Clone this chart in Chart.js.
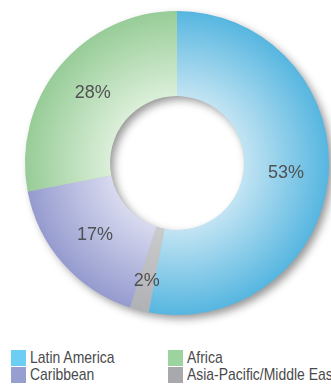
<!DOCTYPE html>
<html>
<head>
<meta charset="utf-8">
<script src="https://cdn.jsdelivr.net/npm/chart.js@4/dist/chart.umd.min.js"></script>
<style>
  html, body { margin: 0; padding: 0; background: #fff; }
  #wrap { position: relative; width: 331px; height: 385px; overflow: hidden; }
  #chart { position: absolute; left: 0; top: 0; }
  #legend {
    position: absolute; left: 11px; top: 350px; width: 330px;
    display: grid; grid-template-columns: 157px 170px; row-gap: 1px;
    font-family: "Liberation Sans", Arial, sans-serif;
    font-size: 17px; color: #4a4a4c;
  }
  .item { display: flex; align-items: center; height: 16px; white-space: nowrap; }
  .swatch { width: 15px; height: 16px; margin-right: 4px; flex: none; }
  /* narrow face: squeeze the regular one */
  .name { display: inline-block; transform: scaleX(0.82); transform-origin: left center; }
</style>
</head>
<body>
<div id="wrap">
  <canvas id="chart" width="331" height="340"></canvas>
  <div id="legend"></div>
</div>
<script>
// Regions and their share, clockwise from 12 o'clock
const regions = ['Latin America', 'Asia-Pacific/Middle East', 'Caribbean', 'Africa'];
const shares = [53, 2, 17, 28];
const swatchColors = ['#6ccef3', '#a7a9ac', '#979fd1', '#9dd39f'];
// inner (light) and outer (dark) stops of each ring segment
const innerColors = ['#c2e4f3', '#cacbcd', '#d8daef', '#dbefd9'];
const outerColors = ['#56b6e0', '#b0b1b4', '#959bcf', '#97cc97'];
// legend reads across: Latin America, Africa / Caribbean, Asia-Pacific
const legendOrder = [0, 3, 2, 1];

const CUTOUT = 0.44;

function ringGeometry(chart) {
  const a = chart.chartArea;
  const outer = Math.min(a.right - a.left, a.bottom - a.top) / 2;
  return {
    x: (a.left + a.right) / 2,
    y: (a.top + a.bottom) / 2,
    outer: outer,
    inner: outer * CUTOUT
  };
}

function segmentFill(context) {
  const chart = context.chart;
  const i = context.dataIndex;
  if (!chart.chartArea) return swatchColors[i];
  const g = ringGeometry(chart);
  const grad = chart.ctx.createRadialGradient(g.x, g.y, g.inner, g.x, g.y, g.outer);
  grad.addColorStop(0, innerColors[i]);
  grad.addColorStop(1, outerColors[i]);
  return grad;
}

// soft drop shadow under the whole ring
const ringShadow = {
  id: 'ringShadow',
  beforeDatasetsDraw(chart) {
    const g = ringGeometry(chart);
    const ctx = chart.ctx;
    ctx.save();
    ctx.shadowColor = 'rgba(0, 0, 0, 0.42)';
    ctx.shadowBlur = 9;
    ctx.shadowOffsetX = 4;
    ctx.shadowOffsetY = 4;
    ctx.fillStyle = '#b9bcc4';
    ctx.beginPath();
    ctx.arc(g.x, g.y, g.outer - 0.5, 0, Math.PI * 2);
    ctx.arc(g.x, g.y, g.inner + 0.5, 0, Math.PI * 2, true);
    ctx.fill('evenodd');
    ctx.restore();
  }
};

// percentage text on each segment
const shareLabels = {
  id: 'shareLabels',
  afterDatasetsDraw(chart) {
    const ctx = chart.ctx;
    const meta = chart.getDatasetMeta(0);
    ctx.save();
    ctx.font = '18px "Liberation Sans", Arial, sans-serif';
    ctx.fillStyle = '#505153';
    ctx.textAlign = 'center';
    ctx.textBaseline = 'middle';
    meta.data.forEach((arc, i) => {
      const p = arc.getProps(['startAngle', 'endAngle', 'innerRadius', 'outerRadius', 'x', 'y']);
      const mid = (p.startAngle + p.endAngle) / 2;
      const r = shares[i] < 5 ? p.outerRadius * 0.8 : (p.innerRadius + p.outerRadius) / 2;
      ctx.fillText(shares[i] + '%', p.x + Math.cos(mid) * r, p.y + Math.sin(mid) * r);
    });
    ctx.restore();
  }
};

new Chart(document.getElementById('chart'), {
  type: 'doughnut',
  data: {
    labels: regions,
    datasets: [{
      data: shares,
      backgroundColor: segmentFill,
      borderWidth: 0,
      hoverOffset: 0
    }]
  },
  options: {
    responsive: false,
    animation: false,
    cutout: (CUTOUT * 100) + '%',
    layout: { padding: { left: 25, top: 11, right: 2, bottom: 25 } },
    plugins: {
      legend: { display: false },
      tooltip: { enabled: false }
    }
  },
  plugins: [ringShadow, shareLabels]
});

const legend = document.getElementById('legend');
legendOrder.forEach(i => {
  const item = document.createElement('div');
  item.className = 'item';
  item.innerHTML = `<span class="swatch" style="background:${swatchColors[i]}"></span><span class="name">${regions[i]}</span>`;
  legend.appendChild(item);
});
</script>
</body>
</html>
